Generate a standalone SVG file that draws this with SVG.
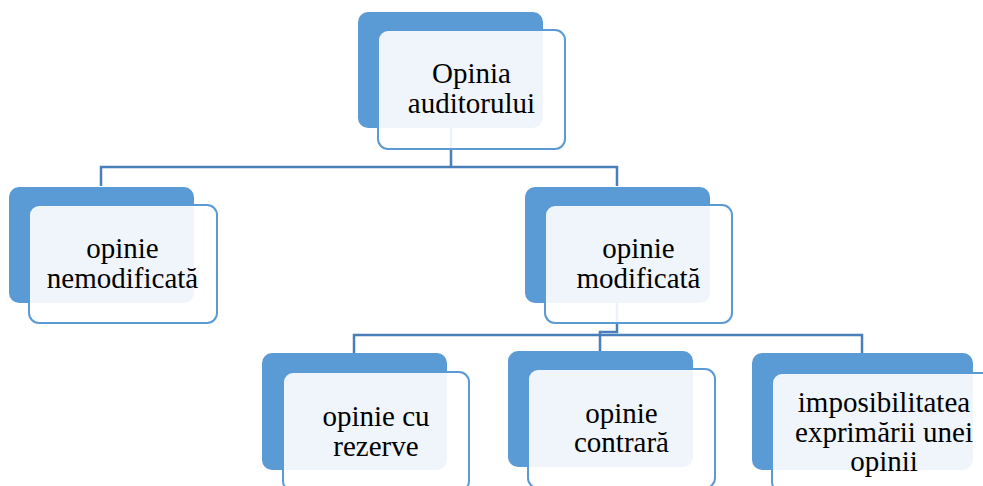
<svg xmlns="http://www.w3.org/2000/svg" width="983" height="486" viewBox="0 0 983 486">
<style>
.back{fill:#5B9BD5;}
.front{fill:#ffffff;fill-opacity:0.9;stroke:#5B9BD5;stroke-width:2;}
.lbl{font-family:'Liberation Serif','DejaVu Serif',serif;font-size:29px;fill:#000;text-anchor:middle;}
.con{fill:none;stroke:#4A7EBB;stroke-width:2.5;}
</style>
<rect width="983" height="486" fill="#ffffff"/>
<g id="connectors">
<path class="con" d="M451,128 V167 M101,186 V167 H617 V186"/>
<path class="con" d="M617,302 V332 H600 V351"/>
<path class="con" d="M354,353 V335 H862 V353"/>
</g>
<g id="n-root">
<rect class="back" x="358" y="12" width="185" height="116" rx="10"/>
<rect class="front" x="378" y="30" width="187" height="119" rx="10"/>
<text class="lbl" font-family="Liberation Serif, serif" x="471.5" y="83">Opinia</text>
<text class="lbl" font-family="Liberation Serif, serif" x="471.5" y="113">auditorului</text>
</g>
<g id="n-nemod">
<rect class="back" x="9" y="187" width="185" height="116" rx="10"/>
<rect class="front" x="29" y="205" width="188" height="118" rx="10"/>
<text class="lbl" font-family="Liberation Serif, serif" x="122.5" y="258">opinie</text>
<text class="lbl" font-family="Liberation Serif, serif" x="122.5" y="288">nemodificată</text>
</g>
<g id="n-mod">
<rect class="back" x="525" y="187" width="185" height="116" rx="10"/>
<rect class="front" x="545" y="205" width="187" height="118" rx="10"/>
<text class="lbl" font-family="Liberation Serif, serif" x="638.5" y="258">opinie</text>
<text class="lbl" font-family="Liberation Serif, serif" x="638.5" y="288">modificată</text>
</g>
<g id="n-rezerve">
<rect class="back" x="262" y="353" width="185" height="117" rx="10"/>
<rect class="front" x="283" y="372" width="186" height="119" rx="10"/>
<text class="lbl" font-family="Liberation Serif, serif" x="376" y="426">opinie cu</text>
<text class="lbl" font-family="Liberation Serif, serif" x="376" y="456">rezerve</text>
</g>
<g id="n-contrara">
<rect class="back" x="508" y="351" width="185" height="116" rx="10"/>
<rect class="front" x="528" y="369" width="187" height="119" rx="10"/>
<text class="lbl" font-family="Liberation Serif, serif" x="621.5" y="423">opinie</text>
<text class="lbl" font-family="Liberation Serif, serif" x="621.5" y="452">contrară</text>
</g>
<g id="n-imposibil">
<rect class="back" x="752" y="353" width="221" height="117" rx="10"/>
<rect class="front" x="772" y="373" width="223" height="119" rx="10"/>
<text class="lbl" font-family="Liberation Serif, serif" x="884" y="412">imposibilitatea</text>
<text class="lbl" font-family="Liberation Serif, serif" x="884" y="442">exprimării unei</text>
<text class="lbl" font-family="Liberation Serif, serif" x="884" y="471">opinii</text>
</g>
</svg>
